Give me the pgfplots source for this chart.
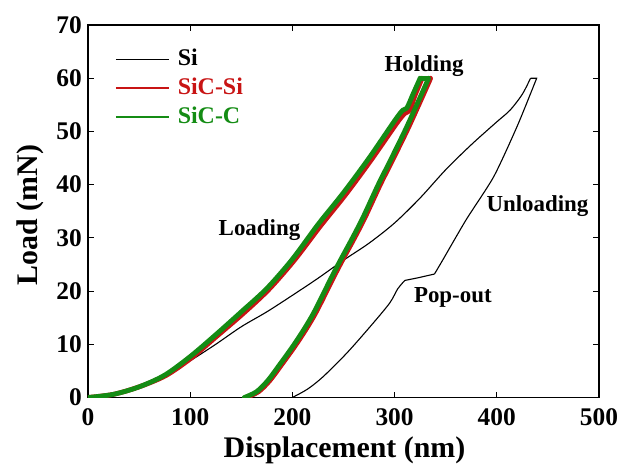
\documentclass[border=0pt]{standalone}
\usepackage{fontspec}
\setmainfont{Liberation Serif}
\usepackage{pgfplots}
\pgfplotsset{compat=1.18}
\definecolor{sicred}{RGB}{200,20,20}
\definecolor{sicgreen}{RGB}{20,140,20}
\tikzset{sicline/.style={line width=4.8bp, line cap=round, line join=round}}
\begin{document}
\begin{tikzpicture}
\useasboundingbox (-88bp,-72.5bp) rectangle (531bp,397.5bp);
\begin{axis}[
  at={(0,0)}, anchor=south west,
  scale only axis, width=511bp, height=372.5bp,
  xmin=0, xmax=500, ymin=0, ymax=70,
  xtick={0,100,...,500}, ytick={0,10,...,70},
  tick align=inside, xtick pos=both, ytick pos=both,
  major tick length=6bp,
  axis line style={line width=1.3bp},
  every tick/.style={black, line width=1.1bp},
  /pgf/number format/assume math mode=true,
  ticklabel style={font=\fontsize{25.5}{30}\selectfont\bfseries, inner sep=0pt},
  xticklabel style={anchor=base, yshift=-27.5bp},
  yticklabel style={anchor=east, xshift=-6bp},
  xlabel={Displacement (nm)}, ylabel={Load (mN)},
  label style={font=\fontsize{30}{36}\selectfont\bfseries, inner sep=0pt},
  xlabel style={at={(axis description cs:0.502,-0.1624)}, anchor=base},
  ylabel style={at={(axis description cs:-0.1135,0.49)}, anchor=center},
  legend style={draw=none, fill=none, inner sep=0pt, at={(0,1)}, anchor=north west,
    xshift=27bp, yshift=-23bp, row sep=7bp,
    font=\fontsize{24}{28}\selectfont\bfseries,
    nodes={inner sep=0pt, text height=17bp, text depth=5bp}},
  legend cell align=left,
  legend image code/.code={\draw[#1] (0bp,0bp) -- (53bp,0bp); \path (61bp,0bp);},
]
\addlegendimage{black, line width=1.3bp}
\addlegendimage{sicred, line width=1.6bp}
\addlegendimage{sicgreen, line width=1.6bp}
\legend{Si, \textcolor{sicred}{SiC-Si}, \textcolor{sicgreen}{SiC-C}}
% ---------------- Si ----------------
\addplot[black, line width=1.1bp, forget plot, smooth, tension=0.5] coordinates {
(0,0) (25,0.6) (50,2.0) (75,4.1) (100,6.9) (125,10.0) (150,13.3) (175,16.1) (200,19.2)
(225,22.4) (250,25.8) (275,29.0) (300,32.8) (325,37.5) (350,42.8) (375,47.5) (400,51.8)
(413,54.0) (425,57.0) (433,60)
};
\addplot[black, line width=1.1bp, forget plot] coordinates {(433,60) (439,60) (438,59.5)};
\addplot[black, line width=1.1bp, forget plot, smooth, tension=0.4] coordinates {
(438,59.5) (420,51) (397,41.5) (370,33.4) (347,25.8) (339,23.2)
};
\addplot[black, line width=1.1bp, forget plot] coordinates {(339,23.2) (323,22.5) (310,22.0)};
\addplot[black, line width=1.1bp, forget plot, smooth, tension=0.5] coordinates {
(310,22.0) (303,20.4) (295,17.7) (276,13.3) (253,8.3) (230,3.9) (215,1.6) (201,0.1) (200,0)
};
% ---------------- SiC-Si ----------------
\addplot[color=sicred, sicline, forget plot, smooth, tension=0.5] coordinates {
(0,0) (25,0.6) (50,2.0) (76,4.1) (101,7.4) (126,11.5) (152,15.8) (177,20.3) (202,25.8)
(227,32.1) (252,38.1) (277,44.6) (302,51.5) (310,53.4) (315,54.0) (320,56.8) (327,60)
};
\addplot[color=sicred, sicline, forget plot] coordinates {(327,60) (335,60)};
\addplot[color=sicred, sicline, forget plot, smooth, tension=0.5] coordinates {
(335,60) (333,59) (314,50.9) (298,44.6) (286,40.0) (271,33.8) (260,29.7) (249,25.8)
(239,22.1) (230,18.6) (222,15.6) (213,12.7) (202,9.5) (190,6.3) (178,3.2) (167,1.1) (155,0)
};
% ---------------- SiC-C ----------------
\addplot[color=sicgreen, sicline, forget plot, smooth, tension=0.5] coordinates {
(0,0) (25,0.6) (50,2.0) (75,4.2) (100,7.7) (125,11.8) (150,16.1) (175,20.5) (200,26.0)
(225,32.5) (250,38.5) (275,45.0) (300,52.0) (308,54.0) (312,54.4) (318,57.0) (325,60)
};
\addplot[color=sicgreen, sicline, forget plot] coordinates {(325,60) (333,60)};
\addplot[color=sicgreen, sicline, forget plot, smooth, tension=0.5] coordinates {
(333,60) (331,59) (312,50.9) (296,44.6) (284,40.0) (269,33.8) (258,29.7) (247,25.8)
(237,22.1) (228,18.6) (220,15.6) (211,12.7) (200,9.5) (188,6.3) (176,3.2) (165,1.1) (153,0)
};
\node[font=\fontsize{23}{27}\selectfont\bfseries, anchor=base, inner sep=0pt] at (axis cs:328.8,61.2) {Holding};
\node[font=\fontsize{23}{27}\selectfont\bfseries, anchor=base, inner sep=0pt] at (axis cs:167.8,30.5) {Loading};
\node[font=\fontsize{23}{27}\selectfont\bfseries, anchor=base, inner sep=0pt] at (axis cs:439.8,34.9) {Unloading};
\node[font=\fontsize{23}{27}\selectfont\bfseries, anchor=base, inner sep=0pt] at (axis cs:357,17.8) {Pop-out};
\end{axis}
\end{tikzpicture}
\end{document}
